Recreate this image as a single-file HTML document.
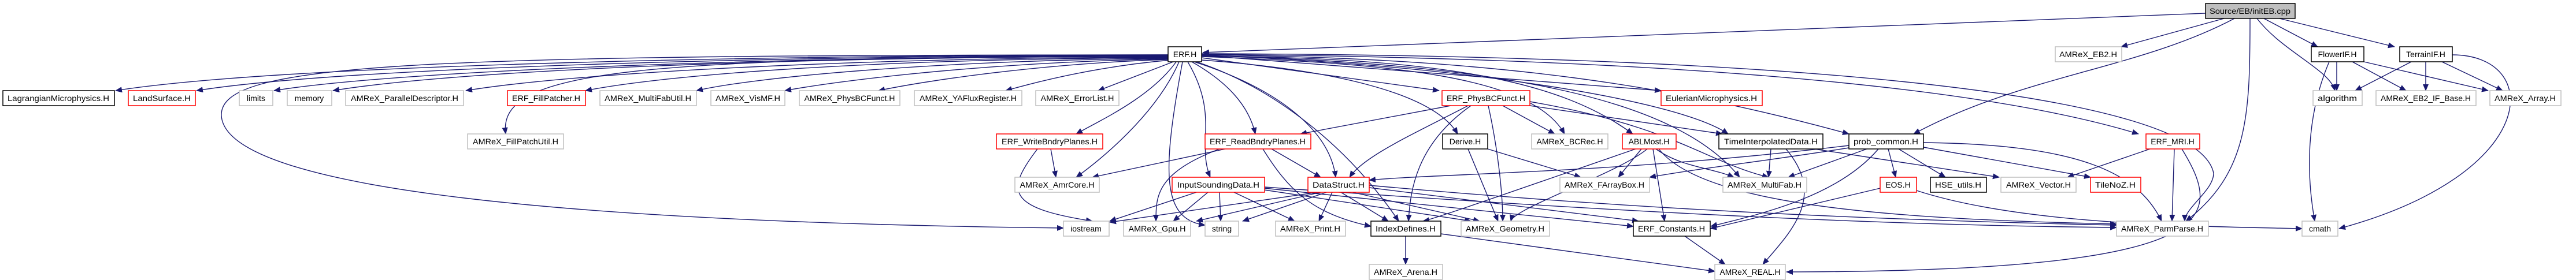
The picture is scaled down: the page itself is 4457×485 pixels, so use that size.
<!DOCTYPE html>
<html><head><meta charset="utf-8"><style>
html,body{margin:0;padding:0;background:#fff;width:4457px;height:485px;overflow:hidden}
svg{display:block}
text{font-family:"Liberation Sans",sans-serif;font-size:14px;fill:#000}
.e{fill:none;stroke:#191970;stroke-width:1.4}
.g{fill:#fff;stroke:#bfbfbf;stroke-width:1.5}
.r{fill:#fff;stroke:#ff0000;stroke-width:1.5}
.b{fill:#fff;stroke:#000;stroke-width:1.5}
</style></head><body>
<svg width="4457" height="485" viewBox="0 0 4457 485" xmlns="http://www.w3.org/2000/svg">
<defs><marker id="a" markerUnits="userSpaceOnUse" markerWidth="12" markerHeight="10" refX="11" refY="5" orient="auto"><path d="M0,0 L12,5 L0,10 z" fill="#191970"/></marker></defs>
<g class="e" marker-end="url(#a)">
<!-- initEB -->
<path d="M3816,23 L2081,91"/>
<path d="M3848,32 L3670,81"/>
<path d="M3866,32 C3700,120 3500,130 3311,232"/>
<path d="M3893,32 C3893,200 3890,300 3782,383"/>
<path d="M3905,32 C3950,90 4030,120 4040,157"/>
<path d="M3917,32 L4010,81"/>
<path d="M3944,32 L4143,81"/>
<!-- FlowerIF / TerrainIF -->
<path d="M4043,107 L4043,157"/>
<path d="M4070,107 L4163,157"/>
<path d="M4090,107 L4305,157"/>
<path d="M4030,107 C3990,200 3990,300 4005,383"/>
<path d="M4172,107 L4075,157"/>
<path d="M4197,107 L4197,157"/>
<path d="M4225,107 L4330,157"/>
<path d="M4243,95 C4400,95 4400,300 4047,396"/>
<!-- ERF.H fan -->
<path d="M2021,95 C1400,95 500,110 200,157"/>
<path d="M2021,96 C1400,96 600,115 340,157"/>
<path d="M2021,97 C1400,97 700,120 474,157"/>
<path d="M2021,98 C1400,98 800,120 576,157"/>
<path d="M2021,99 C1500,100 1000,125 806,157"/>
<path d="M2021,100 C1500,102 1150,130 1013,157"/>
<path d="M2021,97 C1100,100 860,120 875,232"/>
<path d="M2021,101 C1600,105 1300,135 1205,157"/>
<path d="M2021,102 C1700,108 1450,140 1358,157"/>
<path d="M2021,103 C1800,110 1600,140 1520,157"/>
<path d="M2025,104 C1900,115 1800,140 1740,157"/>
<path d="M2030,107 L1900,157"/>
<path d="M2021,95 C700,95 380,110 383,200 C390,330 1000,385 1840,395"/>
<path d="M2035,107 C1990,170 1900,210 1862,232"/>
<path d="M2040,107 C2000,200 1900,280 1862,307"/>
<path d="M2046,107 C2010,300 2010,380 2085,390"/>
<path d="M2055,107 C2110,200 2070,250 2094,307"/>
<path d="M2062,107 C2120,140 2160,180 2172,232"/>
<path d="M2066,107 C2200,150 2300,220 2311,307"/>
<path d="M2070,107 C2200,150 2330,250 2420,383"/>
<path d="M2079,104 C2300,120 2480,160 2522,232"/>
<path d="M2079,100 L2490,157"/>
<path d="M2079,98 C2400,110 2650,130 2707,232"/>
<path d="M2079,97 C2500,100 2700,140 2825,232"/>
<path d="M2079,96 L2874,157"/>
<path d="M2079,96 C2500,110 2900,170 2990,232"/>
<path d="M2079,96 C2600,110 2900,170 3010,307"/>
<path d="M2079,95 C2600,100 2900,150 3199,232"/>
<path d="M2079,94 C2800,100 3400,140 3700,232"/>
<path d="M2079,93 C3000,95 3800,150 3830,300 C3830,330 3780,360 3780,383"/>
<!-- ERF_PhysBCFunct -->
<path d="M2510,183 L2250,232"/>
<path d="M2540,183 C2450,230 2360,270 2335,307"/>
<path d="M2545,183 C2450,250 2440,330 2437,383"/>
<path d="M2575,183 C2590,250 2600,330 2600,383"/>
<path d="M2600,183 L2690,232"/>
<path d="M2647,183 L2980,232"/>
<path d="M2647,176 C2900,220 2950,280 3060,307"/>
<!-- ReadBndryPlanes -->
<path d="M2120,258 L1890,307"/>
<path d="M2110,258 C2000,300 2000,340 2000,383"/>
<path d="M2200,258 L2285,307"/>
<path d="M2185,258 C2230,330 2270,370 2372,392"/>
<!-- WriteBndryPlanes -->
<path d="M1818,258 L1827,307"/>
<path d="M1795,258 C1740,330 1740,360 1890,383"/>
<!-- InputSoundingData -->
<path d="M2070,333 L1920,383"/>
<path d="M2090,333 L2030,383"/>
<path d="M2110,333 L2112,383"/>
<path d="M2135,333 L2240,383"/>
<path d="M2188,329 L2545,383"/>
<path d="M2188,326 L2826,392"/>
<path d="M2188,324 C2700,360 3200,390 3662,394"/>
<!-- DataStruct -->
<path d="M2280,333 L1920,385"/>
<path d="M2285,333 L2070,383"/>
<path d="M2295,333 L2150,383"/>
<path d="M2305,333 L2282,383"/>
<path d="M2320,333 L2402,383"/>
<path d="M2340,333 L2560,383"/>
<path d="M2369,325 L2835,383"/>
<path d="M2369,321 C2800,360 3200,380 3662,390"/>
<!-- Derive -->
<path d="M2574,258 L2735,307"/>
<path d="M2540,258 L2592,383"/>
<!-- ABLMost -->
<path d="M2830,258 C2650,320 2480,380 2462,383"/>
<path d="M2840,258 L2800,307"/>
<path d="M2850,258 C2800,300 2620,360 2614,383"/>
<path d="M2860,258 L2880,383"/>
<path d="M2865,258 C2910,290 2960,290 3000,307"/>
<path d="M2870,258 C2950,360 3300,380 3662,388"/>
<!-- TimeInterpolatedData -->
<path d="M3064,258 L3060,307"/>
<path d="M3090,258 C3160,340 3100,400 3050,458"/>
<path d="M3139,258 L3459,307"/>
<!-- prob_common -->
<path d="M3199,252 C2800,300 2500,300 2369,312"/>
<path d="M3230,258 L3094,307"/>
<path d="M3267,258 L3280,307"/>
<path d="M3285,258 L3366,307"/>
<path d="M3328,255 L3617,307"/>
<path d="M3328,247 C3600,250 3700,300 3740,383"/>
<path d="M3250,258 C3180,340 3050,370 2960,392"/>
<path d="M3199,256 C3050,280 2950,290 2854,307"/>
<!-- ERF_MRI -->
<path d="M3720,258 L3577,307"/>
<path d="M3762,258 L3758,383"/>
<path d="M3775,258 C3850,380 3850,470 3091,471"/>
<!-- EOS -->
<path d="M3253,326 L2959,396"/>
<path d="M3316,330 C3500,390 3800,392 3983,396"/>
<!-- IndexDefines / ERF_Constants -->
<path d="M2432,409 L2432,458"/>
<path d="M2493,405 L2967,470"/>
<path d="M2915,409 L2985,458"/>
</g>
<!-- nodes -->
<g>
<rect class="b" x="3816" y="6" width="155" height="26" style="fill:#bfbfbf"/><text x="3893" y="24" text-anchor="middle" textLength="140" lengthAdjust="spacingAndGlyphs">Source/EB/initEB.cpp</text>
<rect class="b" x="2021" y="81" width="58" height="26"/><text x="2050" y="99" text-anchor="middle">ERF.H</text>
<rect class="g" x="3556" y="81" width="115" height="26"/><text x="3613" y="99" text-anchor="middle" textLength="100" lengthAdjust="spacingAndGlyphs">AMReX_EB2.H</text>
<rect class="b" x="3999" y="81" width="91" height="26"/><text x="4044" y="99" text-anchor="middle">FlowerIF.H</text>
<rect class="b" x="4152" y="81" width="91" height="26"/><text x="4197" y="99" text-anchor="middle">TerrainIF.H</text>

<rect class="b" x="5" y="157" width="193" height="26"/><text x="101" y="175" text-anchor="middle" textLength="176" lengthAdjust="spacingAndGlyphs">LagrangianMicrophysics.H</text>
<rect class="r" x="222" y="157" width="116" height="26"/><text x="280" y="175" text-anchor="middle" textLength="100" lengthAdjust="spacingAndGlyphs">LandSurface.H</text>
<rect class="g" x="414" y="157" width="58" height="26"/><text x="443" y="175" text-anchor="middle">limits</text>
<rect class="g" x="497" y="157" width="77" height="26"/><text x="535" y="175" text-anchor="middle">memory</text>
<rect class="g" x="598" y="157" width="204" height="26"/><text x="700" y="175" text-anchor="middle" textLength="186" lengthAdjust="spacingAndGlyphs">AMReX_ParallelDescriptor.H</text>
<rect class="r" x="878" y="157" width="135" height="26"/><text x="945" y="175" text-anchor="middle" textLength="118" lengthAdjust="spacingAndGlyphs">ERF_FillPatcher.H</text>
<rect class="g" x="1038" y="157" width="167" height="26"/><text x="1121" y="175" text-anchor="middle" textLength="150" lengthAdjust="spacingAndGlyphs">AMReX_MultiFabUtil.H</text>
<rect class="g" x="1230" y="157" width="128" height="26"/><text x="1294" y="175" text-anchor="middle" textLength="112" lengthAdjust="spacingAndGlyphs">AMReX_VisMF.H</text>
<rect class="g" x="1383" y="157" width="174" height="26"/><text x="1470" y="175" text-anchor="middle" textLength="157" lengthAdjust="spacingAndGlyphs">AMReX_PhysBCFunct.H</text>
<rect class="g" x="1582" y="157" width="186" height="26"/><text x="1675" y="175" text-anchor="middle" textLength="168" lengthAdjust="spacingAndGlyphs">AMReX_YAFluxRegister.H</text>
<rect class="g" x="1792" y="157" width="144" height="26"/><text x="1864" y="175" text-anchor="middle" textLength="127" lengthAdjust="spacingAndGlyphs">AMReX_ErrorList.H</text>
<rect class="r" x="2495" y="157" width="152" height="26"/><text x="2571" y="175" text-anchor="middle" textLength="136" lengthAdjust="spacingAndGlyphs">ERF_PhysBCFunct.H</text>
<rect class="r" x="2874" y="157" width="175" height="26"/><text x="2961" y="175" text-anchor="middle" textLength="158" lengthAdjust="spacingAndGlyphs">EulerianMicrophysics.H</text>
<rect class="g" x="4002" y="157" width="85" height="26"/><text x="4044" y="175" text-anchor="middle" textLength="68" lengthAdjust="spacingAndGlyphs">algorithm</text>
<rect class="g" x="4111" y="157" width="173" height="26"/><text x="4197" y="175" text-anchor="middle" textLength="156" lengthAdjust="spacingAndGlyphs">AMReX_EB2_IF_Base.H</text>
<rect class="g" x="4308" y="157" width="123" height="26"/><text x="4369" y="175" text-anchor="middle" textLength="106" lengthAdjust="spacingAndGlyphs">AMReX_Array.H</text>

<rect class="g" x="809" y="232" width="166" height="26"/><text x="892" y="250" text-anchor="middle" textLength="148" lengthAdjust="spacingAndGlyphs">AMReX_FillPatchUtil.H</text>
<rect class="r" x="1724" y="232" width="184" height="26"/><text x="1816" y="250" text-anchor="middle" textLength="166" lengthAdjust="spacingAndGlyphs">ERF_WriteBndryPlanes.H</text>
<rect class="r" x="2085" y="232" width="183" height="26"/><text x="2176" y="250" text-anchor="middle" textLength="166" lengthAdjust="spacingAndGlyphs">ERF_ReadBndryPlanes.H</text>
<rect class="b" x="2496" y="232" width="78" height="26"/><text x="2535" y="250" text-anchor="middle">Derive.H</text>
<rect class="g" x="2650" y="232" width="132" height="26"/><text x="2716" y="250" text-anchor="middle" textLength="115" lengthAdjust="spacingAndGlyphs">AMReX_BCRec.H</text>
<rect class="r" x="2807" y="232" width="93" height="26"/><text x="2853" y="250" text-anchor="middle">ABLMost.H</text>
<rect class="b" x="2974" y="232" width="180" height="26"/><text x="3064" y="250" text-anchor="middle" textLength="162" lengthAdjust="spacingAndGlyphs">TimeInterpolatedData.H</text>
<rect class="b" x="3199" y="232" width="129" height="26"/><text x="3263" y="250" text-anchor="middle" textLength="112" lengthAdjust="spacingAndGlyphs">prob_common.H</text>
<rect class="r" x="3713" y="232" width="93" height="26"/><text x="3759" y="250" text-anchor="middle">ERF_MRI.H</text>

<rect class="g" x="1756" y="307" width="146" height="26"/><text x="1829" y="325" text-anchor="middle" textLength="129" lengthAdjust="spacingAndGlyphs">AMReX_AmrCore.H</text>
<rect class="r" x="2028" y="307" width="160" height="26"/><text x="2108" y="325" text-anchor="middle" textLength="142" lengthAdjust="spacingAndGlyphs">InputSoundingData.H</text>
<rect class="r" x="2263" y="307" width="106" height="26"/><text x="2316" y="325" text-anchor="middle" textLength="90" lengthAdjust="spacingAndGlyphs">DataStruct.H</text>
<rect class="g" x="2699" y="307" width="155" height="26"/><text x="2776" y="325" text-anchor="middle" textLength="138" lengthAdjust="spacingAndGlyphs">AMReX_FArrayBox.H</text>
<rect class="g" x="2981" y="307" width="145" height="26"/><text x="3053" y="325" text-anchor="middle" textLength="128" lengthAdjust="spacingAndGlyphs">AMReX_MultiFab.H</text>
<rect class="r" x="3253" y="307" width="63" height="26"/><text x="3284" y="325" text-anchor="middle">EOS.H</text>
<rect class="b" x="3340" y="307" width="97" height="26"/><text x="3388" y="325" text-anchor="middle" textLength="80" lengthAdjust="spacingAndGlyphs">HSE_utils.H</text>
<rect class="g" x="3462" y="307" width="130" height="26"/><text x="3527" y="325" text-anchor="middle" textLength="112" lengthAdjust="spacingAndGlyphs">AMReX_Vector.H</text>
<rect class="r" x="3617" y="307" width="87" height="26"/><text x="3660" y="325" text-anchor="middle" textLength="70" lengthAdjust="spacingAndGlyphs">TileNoZ.H</text>

<rect class="g" x="1840" y="383" width="79" height="26"/><text x="1879" y="401" text-anchor="middle">iostream</text>
<rect class="g" x="1944" y="383" width="116" height="26"/><text x="2002" y="401" text-anchor="middle" textLength="99" lengthAdjust="spacingAndGlyphs">AMReX_Gpu.H</text>
<rect class="g" x="2085" y="383" width="58" height="26"/><text x="2114" y="401" text-anchor="middle">string</text>
<rect class="g" x="2207" y="383" width="121" height="26"/><text x="2267" y="401" text-anchor="middle" textLength="104" lengthAdjust="spacingAndGlyphs">AMReX_Print.H</text>
<rect class="b" x="2372" y="383" width="121" height="26"/><text x="2432" y="401" text-anchor="middle" textLength="104" lengthAdjust="spacingAndGlyphs">IndexDefines.H</text>
<rect class="g" x="2528" y="383" width="153" height="26"/><text x="2604" y="401" text-anchor="middle" textLength="136" lengthAdjust="spacingAndGlyphs">AMReX_Geometry.H</text>
<rect class="b" x="2826" y="383" width="133" height="26"/><text x="2892" y="401" text-anchor="middle" textLength="116" lengthAdjust="spacingAndGlyphs">ERF_Constants.H</text>
<rect class="g" x="3662" y="383" width="159" height="26"/><text x="3741" y="401" text-anchor="middle" textLength="142" lengthAdjust="spacingAndGlyphs">AMReX_ParmParse.H</text>
<rect class="g" x="3983" y="383" width="62" height="26"/><text x="4014" y="401" text-anchor="middle">cmath</text>

<rect class="g" x="2369" y="458" width="127" height="26"/><text x="2432" y="476" text-anchor="middle" textLength="110" lengthAdjust="spacingAndGlyphs">AMReX_Arena.H</text>
<rect class="g" x="2967" y="458" width="122" height="26"/><text x="3028" y="476" text-anchor="middle" textLength="105" lengthAdjust="spacingAndGlyphs">AMReX_REAL.H</text>
</g>
</svg>
</body></html>
